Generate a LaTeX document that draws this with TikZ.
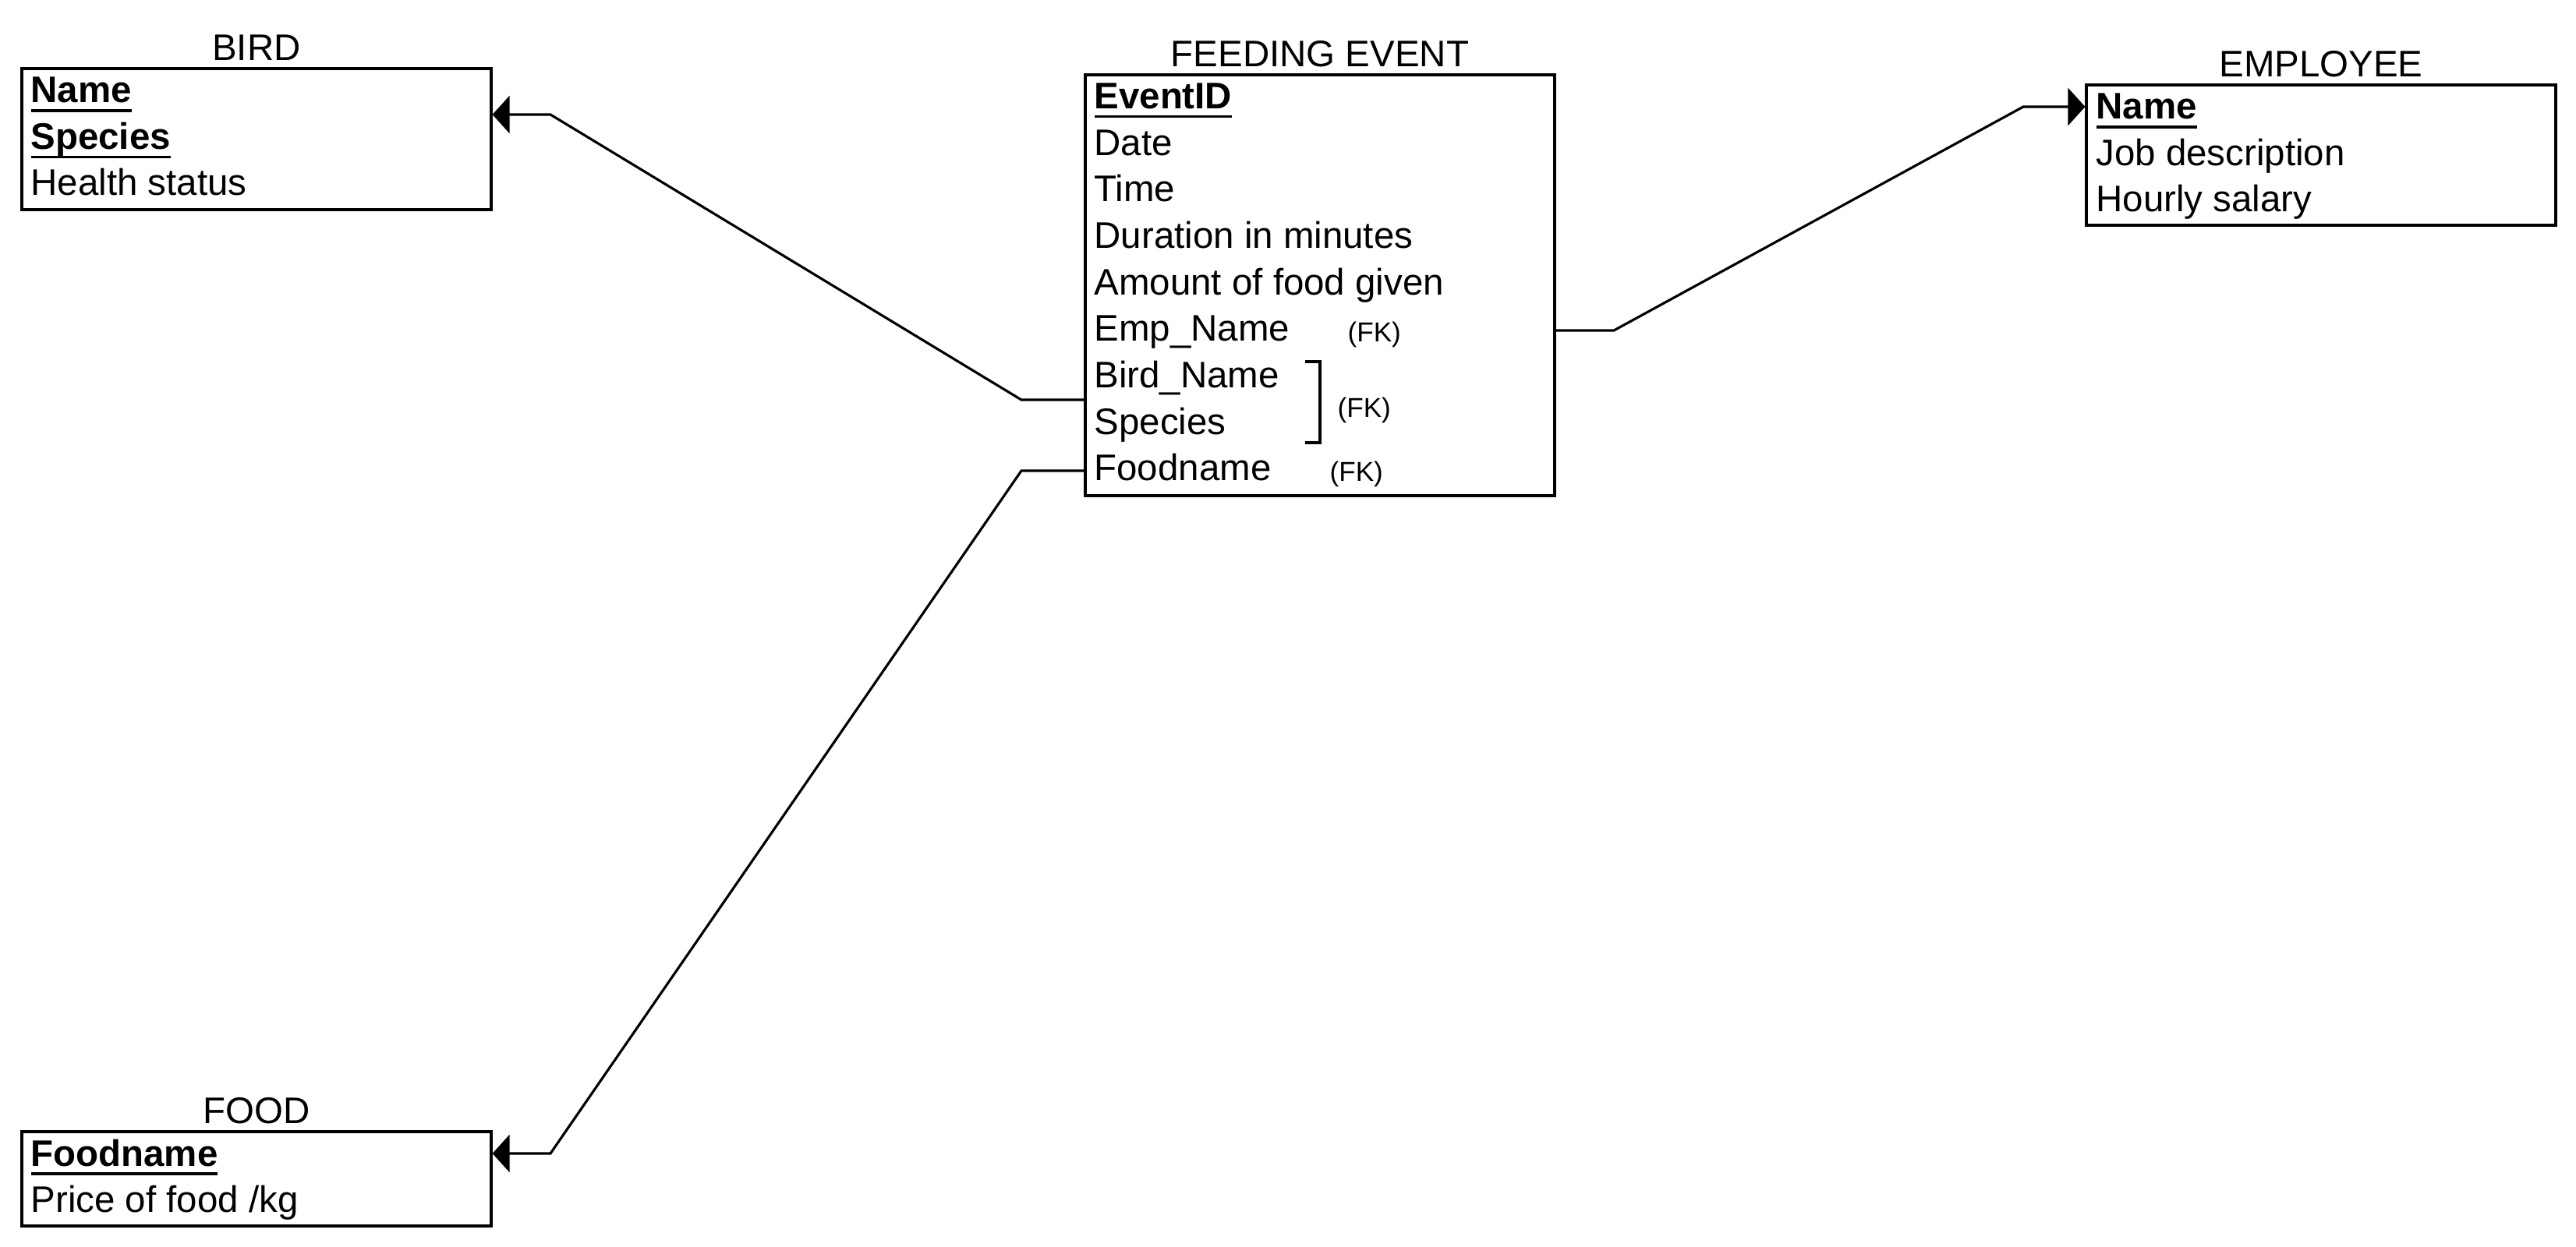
\documentclass[tikz,border=0pt]{standalone}
\usepackage{fontspec}
\setmainfont{Liberation Sans}
\usetikzlibrary{arrows.meta}
\pgfdeclarelayer{bg}
\pgfsetlayers{bg,main}
\newsavebox{\pkbox}
\newcommand{\pkey}[1]{\sbox{\pkbox}{\textbf{#1}}\rlap{\rule[-3.3pt]{\wd\pkbox}{0.9pt}}\usebox{\pkbox}}

\begin{document}
\begin{tikzpicture}[
        line width=0.9pt,
        font=\fontsize{13.5}{16}\selectfont,
        label distance=0.07cm,
        every label/.style={inner sep=0pt},
        entity/.style={draw, rectangle, inner sep=0pt, minimum width=6.02cm},
        attr/.style={inner sep=0pt, anchor=base west},
        fk/.style={inner sep=0pt, anchor=base west, font=\fontsize{10}{12}\selectfont},
        rel/.style={line width=0.9pt, -{Triangle[length=2.2mm,width=4.8mm]}}]
        \useasboundingbox (0cm, 0cm) rectangle (33.04cm, -16cm);
        \node (bird) [entity, minimum height=1.81cm, label=above:{BIRD}] at (3.29cm, -1.785cm) {};
        \node (b1) [attr] at (0.38cm, -1.32cm) {\pkey{Name}};
        \node (b2) [attr] at (0.38cm, -1.915cm) {\pkey{Species}};
        \node (b3) [attr] at (0.38cm, -2.51cm) {Health status};
        \node (fe) [entity, minimum height=5.40cm, label=above:{FEEDING EVENT}] at (16.93cm, -3.66cm) {};
        \node (f1) [attr] at (14.02cm, -1.394cm) {\pkey{EventID}};
        \node (f2) [attr] at (14.02cm, -1.991cm) {Date};
        \node (f3) [attr] at (14.02cm, -2.588cm) {Time};
        \node (f4) [attr] at (14.02cm, -3.185cm) {Duration in minutes};
        \node (f5) [attr] at (14.02cm, -3.782cm) {Amount of food given};
        \node (f6) [attr] at (14.02cm, -4.379cm) {Emp\_Name};
        \node (f7) [attr] at (14.02cm, -4.976cm) {Bird\_Name};
        \node (f8) [attr] at (14.02cm, -5.573cm) {Species};
        \node (f9) [attr] at (14.02cm, -6.170cm) {Foodname};
        \node (k1) [fk] at (17.27cm, -4.39cm) {(FK)};
        \node (k2) [fk] at (17.14cm, -5.36cm) {(FK)};
        \node (k3) [fk] at (17.04cm, -6.18cm) {(FK)};
        \draw (16.74cm, -4.64cm) -- (16.93cm, -4.64cm) -- (16.93cm, -5.68cm) -- (16.74cm, -5.68cm);
        \node (emp) [entity, minimum height=1.80cm, label=above:{EMPLOYEE}] at (29.77cm, -1.99cm) {};
        \node (e1) [attr] at (26.87cm, -1.53cm) {\pkey{Name}};
        \node (e2) [attr] at (26.87cm, -2.125cm) {Job description};
        \node (e3) [attr] at (26.87cm, -2.72cm) {Hourly salary};
        \node (food) [entity, minimum height=1.21cm, label=above:{FOOD}] at (3.29cm, -15.125cm) {};
        \node (d1) [attr] at (0.38cm, -14.96cm) {\pkey{Foodname}};
        \node (d2) [attr] at (0.38cm, -15.555cm) {Price of food /kg};
        \coordinate (j1) at (13.10cm, -5.13cm);
        \coordinate (j2) at (7.06cm, -1.47cm);
        \coordinate (j3) at (13.10cm, -6.04cm);
        \coordinate (j4) at (7.06cm, -14.80cm);
        \coordinate (j5) at (20.70cm, -4.24cm);
        \coordinate (j6) at (25.95cm, -1.37cm);
        \begin{pgfonlayer}{bg}
                \draw [rel] (fe.west |- j1) -- (j1) -- (j2) -- (bird.east |- j2);
                \draw [rel] (fe.west |- j3) -- (j3) -- (j4) -- (food.east |- j4);
                \draw [rel] (fe.east |- j5) -- (j5) -- (j6) -- (emp.west |- j6);
        \end{pgfonlayer}
\end{tikzpicture}
\end{document}
